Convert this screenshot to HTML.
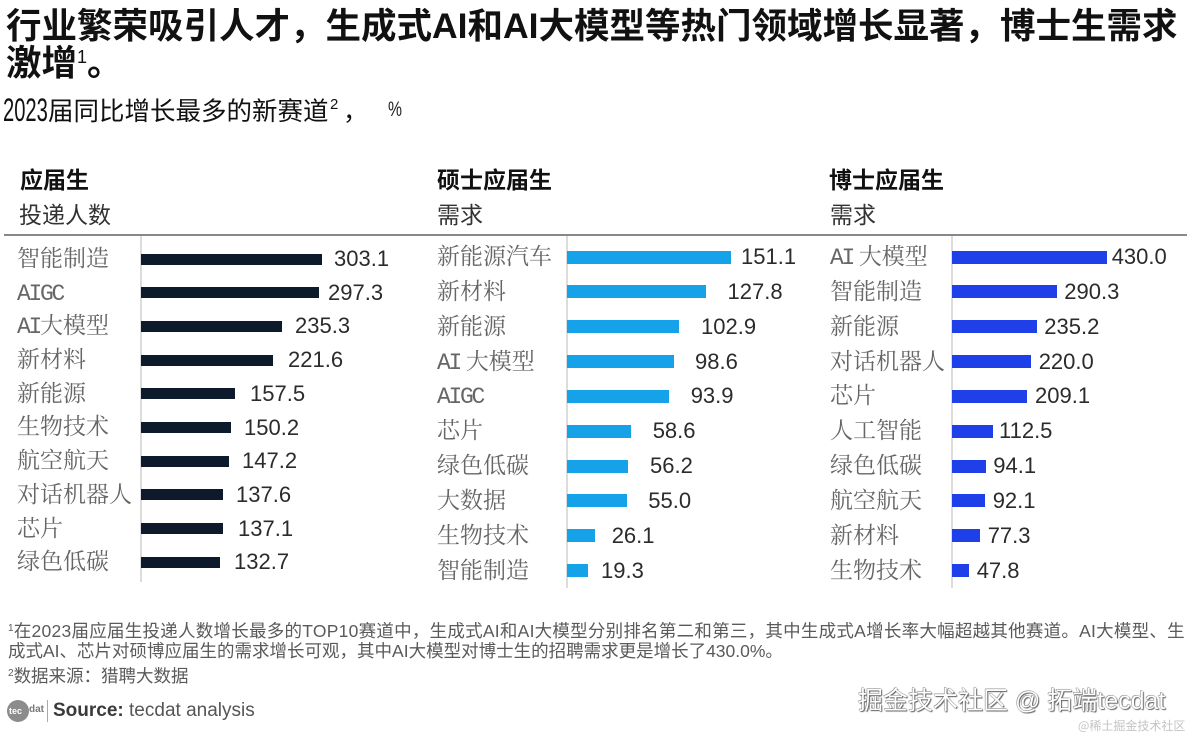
<!DOCTYPE html>
<html>
<head>
<meta charset="utf-8">
<style>
*{margin:0;padding:0;box-sizing:border-box;}
html,body{width:1192px;height:736px;background:#fff;overflow:hidden;}
body{position:relative;font-family:"Liberation Sans","Noto Sans CJK SC",sans-serif;}
.a{position:absolute;white-space:nowrap;}
.title{left:6px;top:8px;font-size:35.5px;line-height:37px;font-weight:bold;color:#111;font-family:"Liberation Sans","Noto Sans CJK SC",sans-serif;}
.hd{font-size:23px;line-height:28px;color:#111;font-weight:bold;font-family:"Noto Sans CJK SC",sans-serif;}
.sh{font-size:23px;line-height:28px;color:#333;font-family:"Noto Sans CJK SC",sans-serif;}
.cat{font-size:23px;height:30px;line-height:30px;color:#666;font-family:"Liberation Serif","Noto Serif CJK SC",serif;}
.cat .m{font-family:"Liberation Mono",monospace;letter-spacing:-2.3px;}
.val{font-size:22px;height:30px;line-height:30px;color:#2b2b2b;font-family:"Liberation Sans",sans-serif;}
.b1{position:absolute;height:11px;background:#0c1a2b;}
.b2{position:absolute;height:13px;background:#16a2e8;}
.b3{position:absolute;height:13px;background:#1f3fe8;}
.ax{position:absolute;width:2px;background:#dcdcdc;}
.fn{font-size:17.5px;line-height:20px;height:20px;color:#5a5a5a;font-family:"Liberation Sans","Noto Sans CJK SC",sans-serif;}
.fn sup{font-size:10px;line-height:0;vertical-align:6px;}
</style>
</head>
<body>

<div class="a title">行业繁荣吸引人才，生成式AI和AI大模型等热门领域增长显著，博士生需求<br>激增<span style="font-size:18px;font-weight:normal;vertical-align:12px;line-height:0;">1</span>。</div>

<!-- subtitle -->
<div class="a" style="left:3px;top:94px;font-size:32px;line-height:32px;color:#111;display:inline-block;width:45px;transform:scaleX(.63);transform-origin:0 50%;font-family:'Liberation Sans',sans-serif;">2023</div>
<div class="a" style="left:48px;top:95px;font-size:25.5px;line-height:30px;color:#111;font-family:'Noto Sans CJK SC',sans-serif;">届同比增长最多的新赛道</div>
<div class="a" style="left:330px;top:97px;font-size:15px;line-height:15px;color:#111;">2</div>
<div class="a" style="left:343px;top:95px;font-size:25px;line-height:30px;color:#111;font-family:'Noto Sans CJK SC',sans-serif;">，</div>
<div class="a" style="left:388px;top:98px;font-size:21px;line-height:24px;color:#222;display:inline-block;transform:scaleX(.75);transform-origin:0 50%;">%</div>

<!-- panel headers -->
<div class="a hd" style="left:20px;top:164px;">应届生</div>
<div class="a sh" style="left:19px;top:199px;">投递人数</div>
<div class="a hd" style="left:437px;top:164px;">硕士应届生</div>
<div class="a sh" style="left:437px;top:199px;">需求</div>
<div class="a hd" style="left:829px;top:164px;">博士应届生</div>
<div class="a sh" style="left:830px;top:199px;">需求</div>

<div class="a" style="left:4px;top:234px;width:1183px;height:2px;background:#888;"></div>

<!-- axes -->
<div class="ax" style="left:140px;top:236px;height:346px;"></div>
<div class="ax" style="left:566px;top:236px;height:352px;"></div>
<div class="ax" style="left:951px;top:236px;height:352px;"></div>

<!-- LEFT PANEL -->
<div class="a cat" style="left:17px;top:244px;">智能制造</div>
<div class="a cat" style="left:17px;top:278px;"><span class="m">AIGC</span></div>
<div class="a cat" style="left:17px;top:311px;"><span class="m">AI</span>大模型</div>
<div class="a cat" style="left:17px;top:345px;">新材料</div>
<div class="a cat" style="left:17px;top:379px;">新能源</div>
<div class="a cat" style="left:17px;top:412px;">生物技术</div>
<div class="a cat" style="left:17px;top:446px;">航空航天</div>
<div class="a cat" style="left:17px;top:480px;">对话机器人</div>
<div class="a cat" style="left:17px;top:514px;">芯片</div>
<div class="a cat" style="left:17px;top:547px;">绿色低碳</div>

<div class="b1" style="left:141px;top:253.5px;width:181px;"></div>
<div class="b1" style="left:141px;top:287.2px;width:177.5px;"></div>
<div class="b1" style="left:141px;top:320.9px;width:140.5px;"></div>
<div class="b1" style="left:141px;top:354.6px;width:132.3px;"></div>
<div class="b1" style="left:141px;top:388.3px;width:94px;"></div>
<div class="b1" style="left:141px;top:422px;width:89.7px;"></div>
<div class="b1" style="left:141px;top:455.7px;width:87.9px;"></div>
<div class="b1" style="left:141px;top:489.4px;width:82.1px;"></div>
<div class="b1" style="left:141px;top:523.1px;width:81.8px;"></div>
<div class="b1" style="left:141px;top:556.8px;width:79.2px;"></div>

<div class="a val" style="left:334px;top:244px;">303.1</div>
<div class="a val" style="left:328px;top:277.7px;">297.3</div>
<div class="a val" style="left:295px;top:311.4px;">235.3</div>
<div class="a val" style="left:288px;top:345.1px;">221.6</div>
<div class="a val" style="left:250px;top:378.8px;">157.5</div>
<div class="a val" style="left:244px;top:412.5px;">150.2</div>
<div class="a val" style="left:242px;top:446.2px;">147.2</div>
<div class="a val" style="left:236px;top:479.9px;">137.6</div>
<div class="a val" style="left:238px;top:513.6px;">137.1</div>
<div class="a val" style="left:234px;top:547.3px;">132.7</div>

<!-- MIDDLE PANEL -->
<div class="a cat" style="left:437px;top:242px;">新能源汽车</div>
<div class="a cat" style="left:437px;top:277px;">新材料</div>
<div class="a cat" style="left:437px;top:312px;">新能源</div>
<div class="a cat" style="left:437px;top:346.5px;"><span class="m">AI</span> 大模型</div>
<div class="a cat" style="left:437px;top:381.4px;"><span class="m">AIGC</span></div>
<div class="a cat" style="left:437px;top:416.2px;">芯片</div>
<div class="a cat" style="left:437px;top:451px;">绿色低碳</div>
<div class="a cat" style="left:437px;top:486px;">大数据</div>
<div class="a cat" style="left:437px;top:520.8px;">生物技术</div>
<div class="a cat" style="left:437px;top:555.6px;">智能制造</div>

<div class="b2" style="left:567px;top:250.5px;width:163.9px;"></div>
<div class="b2" style="left:567px;top:285.35px;width:138.7px;"></div>
<div class="b2" style="left:567px;top:320.2px;width:111.6px;"></div>
<div class="b2" style="left:567px;top:355.05px;width:107px;"></div>
<div class="b2" style="left:567px;top:389.9px;width:101.9px;"></div>
<div class="b2" style="left:567px;top:424.75px;width:63.6px;"></div>
<div class="b2" style="left:567px;top:459.6px;width:61px;"></div>
<div class="b2" style="left:567px;top:494.45px;width:59.7px;"></div>
<div class="b2" style="left:567px;top:529.3px;width:28.3px;"></div>
<div class="b2" style="left:567px;top:564.15px;width:20.9px;"></div>

<div class="a val" style="left:741px;top:242px;">151.1</div>
<div class="a val" style="left:727.5px;top:276.85px;">127.8</div>
<div class="a val" style="left:701px;top:311.7px;">102.9</div>
<div class="a val" style="left:695px;top:346.55px;">98.6</div>
<div class="a val" style="left:690.7px;top:381.4px;">93.9</div>
<div class="a val" style="left:652.7px;top:416.25px;">58.6</div>
<div class="a val" style="left:650px;top:451.1px;">56.2</div>
<div class="a val" style="left:648.3px;top:485.95px;">55.0</div>
<div class="a val" style="left:611.7px;top:520.8px;">26.1</div>
<div class="a val" style="left:601px;top:555.65px;">19.3</div>

<!-- RIGHT PANEL -->
<div class="a cat" style="left:830px;top:242px;"><span class="m">AI</span> 大模型</div>
<div class="a cat" style="left:830px;top:277px;">智能制造</div>
<div class="a cat" style="left:830px;top:312px;">新能源</div>
<div class="a cat" style="left:830px;top:346.5px;">对话机器人</div>
<div class="a cat" style="left:830px;top:381.4px;">芯片</div>
<div class="a cat" style="left:830px;top:416.2px;">人工智能</div>
<div class="a cat" style="left:830px;top:451px;">绿色低碳</div>
<div class="a cat" style="left:830px;top:486px;">航空航天</div>
<div class="a cat" style="left:830px;top:520.8px;">新材料</div>
<div class="a cat" style="left:830px;top:555.6px;">生物技术</div>

<div class="b3" style="left:952px;top:250.5px;width:155px;"></div>
<div class="b3" style="left:952px;top:285.35px;width:104.7px;"></div>
<div class="b3" style="left:952px;top:320.2px;width:84.8px;"></div>
<div class="b3" style="left:952px;top:355.05px;width:79.3px;"></div>
<div class="b3" style="left:952px;top:389.9px;width:75.4px;"></div>
<div class="b3" style="left:952px;top:424.75px;width:40.6px;"></div>
<div class="b3" style="left:952px;top:459.6px;width:33.9px;"></div>
<div class="b3" style="left:952px;top:494.45px;width:33.2px;"></div>
<div class="b3" style="left:952px;top:529.3px;width:27.9px;"></div>
<div class="b3" style="left:952px;top:564.15px;width:17.2px;"></div>

<div class="a val" style="left:1111.7px;top:242px;">430.0</div>
<div class="a val" style="left:1064.3px;top:276.85px;">290.3</div>
<div class="a val" style="left:1044.3px;top:311.7px;">235.2</div>
<div class="a val" style="left:1038.7px;top:346.55px;">220.0</div>
<div class="a val" style="left:1035px;top:381.4px;">209.1</div>
<div class="a val" style="left:999px;top:416.25px;">112.5</div>
<div class="a val" style="left:993.3px;top:451.1px;">94.1</div>
<div class="a val" style="left:992.7px;top:485.95px;">92.1</div>
<div class="a val" style="left:987.7px;top:520.8px;">77.3</div>
<div class="a val" style="left:976.7px;top:555.65px;">47.8</div>

<!-- footnotes -->
<div class="a fn" style="left:8px;top:621px;letter-spacing:0.25px;"><sup>1</sup>在2023届应届生投递人数增长最多的TOP10赛道中，生成式AI和AI大模型分别排名第二和第三，其中生成式A增长率大幅超越其他赛道。AI大模型、生</div>
<div class="a fn" style="left:8px;top:641px;">成式AI、芯片对硕博应届生的需求增长可观，其中AI大模型对博士生的招聘需求更是增长了430.0%。</div>
<div class="a fn" style="left:8px;top:666px;"><sup>2</sup>数据来源：猎聘大数据</div>

<!-- logo + source -->
<div class="a" style="left:7px;top:700px;width:22px;height:22px;border-radius:50%;background:#8c8c8c;"></div>
<div class="a" style="left:9px;top:705px;font-size:9px;line-height:12px;color:#fff;font-weight:bold;">tec</div>
<div class="a" style="left:29px;top:704px;font-size:10px;line-height:12px;color:#777;font-weight:bold;">dat</div>
<div class="a" style="left:47px;top:700px;width:1px;height:22px;background:#aaa;"></div>
<div class="a" style="left:53px;top:699px;font-size:19px;line-height:24px;color:#555;"><b style="color:#3a3a3a;">Source:</b> tecdat analysis</div>

<!-- watermark -->
<div class="a" style="left:858px;top:686px;font-size:25px;line-height:30px;color:#fff;font-family:'Liberation Sans','Noto Sans CJK SC',sans-serif;text-shadow:0 0 1px #444,1px 1px 1px #666,-0.5px -0.5px 0 #999;">掘金技术社区 @ 拓端tecdat</div>
<div class="a" style="left:1078px;top:718px;font-size:12px;line-height:15px;color:#c4c4c4;font-family:'Noto Sans CJK SC',sans-serif;">@稀土掘金技术社区</div>

</body>
</html>
